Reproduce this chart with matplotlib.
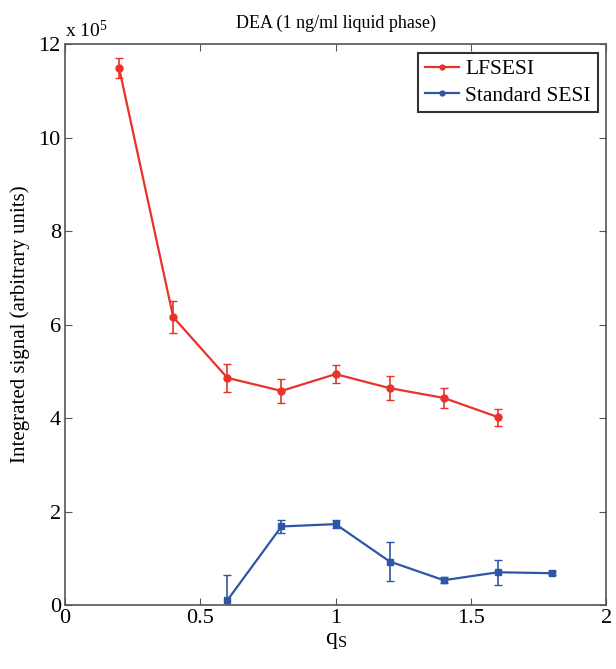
import numpy as np
import matplotlib.pyplot as plt
from matplotlib.lines import Line2D

plt.rcParams['font.family'] = ['Liberation Serif', 'DejaVu Serif']
plt.rcParams['mathtext.fontset'] = 'custom'
plt.rcParams['mathtext.rm'] = 'Liberation Serif'
plt.rcParams['mathtext.it'] = 'Liberation Serif'

# data (signal in units of 1e5)
q_lf = [0.2, 0.4, 0.6, 0.8, 1.0, 1.2, 1.4, 1.6]
sig_lf = [11.49, 6.16, 4.86, 4.58, 4.94, 4.64, 4.43, 4.02]
err_lf = [0.22, 0.35, 0.30, 0.25, 0.20, 0.25, 0.22, 0.18]

q_std = [0.6, 0.8, 1.0, 1.2, 1.4, 1.6, 1.8]
sig_std = [0.10, 1.68, 1.73, 0.93, 0.53, 0.70, 0.68]
err_std = [0.55, 0.13, 0.08, 0.41, 0.06, 0.27, 0.04]

red = '#e8322a'
blue = '#2f55a8'

fig = plt.figure(figsize=(6.16, 6.69), dpi=100)
ax = fig.add_axes([0.1055, 0.0957, 0.8785, 0.8383])

ax.errorbar(q_lf, sig_lf, yerr=err_lf, color=red, marker='o', markersize=5,
            lw=1.6, capsize=3, elinewidth=1.2)
ax.errorbar(q_std, sig_std, yerr=err_std, color=blue, marker='s', markersize=4.5,
            lw=1.6, capsize=3, elinewidth=1.2)

ax.set_xlim(0, 2)
ax.set_ylim(0, 12)
ax.set_xticks([0, 0.5, 1, 1.5, 2])
ax.set_xticklabels(['0', '0.5', '1', '1.5', '2'])
ax.set_yticks(np.arange(0, 13, 2))
ax.tick_params(direction='in', top=True, right=True, labelsize=16,
               length=5, color='#555555', pad=3)
for s in ax.spines.values():
    s.set_color('#555555')
    s.set_linewidth(1.2)

ax.text(0.0, 1.005, r'x 10$^5$', transform=ax.transAxes, fontsize=14,
        ha='left', va='bottom')
ax.set_title('DEA (1 ng/ml liquid phase)', fontsize=13, pad=12)
ax.set_xlabel(r'q$_\mathrm{S}$', fontsize=17, labelpad=1)
ax.set_ylabel('Integrated signal (arbitrary units)', fontsize=15, labelpad=6)

handles = [Line2D([], [], color=red, marker='o', markersize=3.5, lw=1.6),
           Line2D([], [], color=blue, marker='o', markersize=3.5, lw=1.6)]
leg = ax.legend(handles, ['LFSESI', 'Standard SESI'], loc='upper right',
                fontsize=15.5, fancybox=False, framealpha=1,
                edgecolor='#333333', handlelength=1.6, borderpad=0.3,
                labelspacing=0.3, handletextpad=0.3, borderaxespad=0.4)
leg.get_frame().set_linewidth(1.5)

fig.savefig('out.png', dpi=100)
